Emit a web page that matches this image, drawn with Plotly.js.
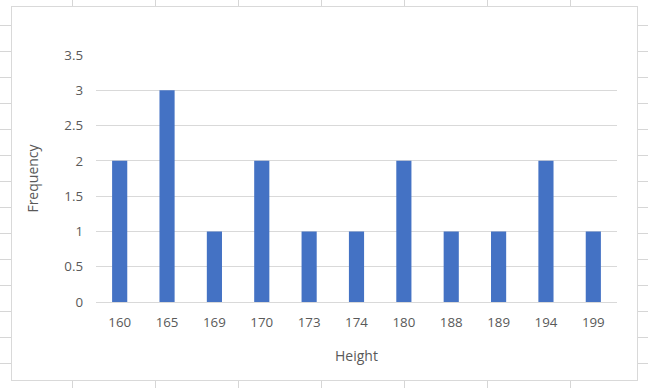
<!DOCTYPE html>
<html>
<head>
<meta charset="utf-8">
<script src="https://cdn.plot.ly/plotly-3.0.1.min.js"></script>
<style>
  html, body { margin: 0; padding: 0; width: 648px; height: 388px; overflow: hidden; background: #ffffff; }
  #sheet {
    position: absolute; left: 0; top: 0; width: 648px; height: 388px;
    background-image:
      linear-gradient(to right, #d6d6d6 0, #d6d6d6 1px, transparent 1px),
      linear-gradient(to bottom, #d6d6d6 0, #d6d6d6 1px, transparent 1px);
    background-size: 83px 388px, 648px 26px;
    background-position: 72px 0, 0 25px;
  }
  #box {
    position: absolute; left: 11px; top: 6px; width: 625px; height: 373px;
    background: #ffffff; border: 1px solid #d9d9d9;
  }
  #chart { position: absolute; left: 0; top: 0; width: 648px; height: 388px; }
</style>
</head>
<body>
<div id="sheet"></div>
<div id="box"></div>
<div id="chart"></div>
<script>
const heights = ["160", "165", "169", "170", "173", "174", "180", "188", "189", "194", "199"];
const frequency = [2, 3, 1, 2, 1, 1, 2, 1, 1, 2, 1];
const yTicks = [0, 0.5, 1, 1.5, 2, 2.5, 3, 3.5];
const yTickText = ["0", "0.5", "1", "1.5", "2", "2.5", "3", "3.5"];

const font = "'Open Sans', 'Liberation Sans', sans-serif";

Plotly.newPlot("chart", [{
  type: "bar",
  x: heights,
  y: frequency,
  marker: { color: "#4472C4" },
  hoverinfo: "x+y"
}], {
  width: 648, height: 388,
  margin: { l: 96, r: 31, t: 55, b: 86 },
  paper_bgcolor: "rgba(0,0,0,0)",
  plot_bgcolor: "rgba(0,0,0,0)",
  bargap: 0.68,
  showlegend: false,
  font: { family: font, size: 13.3, color: "#595959" },
  xaxis: {
    type: "category",
    tickvals: heights,
    ticktext: heights,
    showgrid: false,
    showline: false,
    zeroline: false,
    ticks: "",
    ticklabelstandoff: 11,
    tickfont: { family: font, size: 13.3, color: "#595959" },
    title: { text: "Height", font: { family: font, size: 14, color: "#595959" }, standoff: 20 }
  },
  yaxis: {
    range: [0, 3.5],
    tickvals: yTicks,
    ticktext: yTickText,
    showgrid: true,
    gridcolor: "#d9d9d9",
    gridwidth: 1,
    zeroline: true,
    zerolinecolor: "#d9d9d9",
    zerolinewidth: 1,
    showline: false,
    ticks: "",
    ticklabelstandoff: 12,
    tickfont: { family: font, size: 13.3, color: "#595959" },
    title: { text: "Frequency", font: { family: font, size: 14, color: "#595959" }, standoff: 22 }
  }
}, { displayModeBar: false, staticPlot: true });
</script>
</body>
</html>
